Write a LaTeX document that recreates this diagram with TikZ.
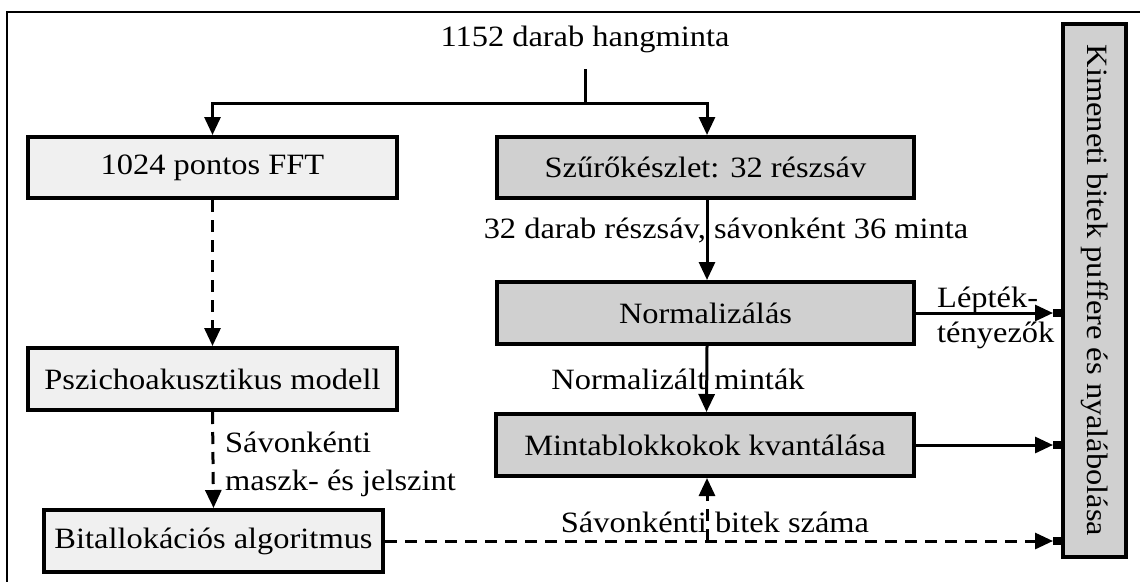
\documentclass[tikz,border=0pt]{standalone}
\usepackage{fontspec}
\setmainfont{Liberation Serif}[FakeStretch=1.1]
\usetikzlibrary{arrows.meta}
\definecolor{lightbox}{HTML}{F0F0F0}
\definecolor{darkbox}{HTML}{D0D0D0}
\begin{document}
\begin{tikzpicture}[x=1pt,y=-1pt,
  font=\fontsize{29.5pt}{34pt}\selectfont,
  box/.style={draw, line width=4pt, inner sep=0pt, align=center},
  lbox/.style={box, fill=lightbox},
  dbox/.style={box, fill=darkbox},
  conn/.style={line width=3pt, line join=miter},
  arr/.style={conn, -{Triangle[length=18pt,width=16pt]}},
  dsh/.style={dash pattern=on 12pt off 8pt},
  lbl/.style={inner sep=0pt, anchor=base},
  lbll/.style={inner sep=0pt, anchor=base west},
  sq/.style={fill=black}
]
\useasboundingbox (0,0) rectangle (1140,581);
\begin{scope}
  \clip (0,0) rectangle (1140,581);
  \draw[line width=1.5pt] (7,12) rectangle (1170,610);
\end{scope}

% boxes
\node[lbox, minimum width=369, minimum height=61] (fft) at (212.5,167.5) {1024 pontos FFT};
\node[dbox, minimum width=417, minimum height=61] (szuro) at (705.5,167.5) {Szűrőkészlet: 32 részsáv};
\node[dbox, minimum width=417, minimum height=62] (norm) at (705.5,313) {Normalizálás};
\node[dbox, minimum width=418, minimum height=62] (minta) at (705,445) {Mintablokkokok kvantálása};
\node[lbox, minimum width=369, minimum height=62] (pszi) at (212.5,379) {Pszichoakusztikus modell};
\node[lbox, minimum width=339, minimum height=62] (bit) at (213.5,541) {Bitallokációs algoritmus};
\node[dbox, minimum width=63, minimum height=533] (out) at (1094.5,290.5) {};
\node[rotate=-90, inner sep=0pt] (outtxt) at (out.center) {Kimeneti bitek puffere és nyalábolása};

% title and split
\node[lbl] (title) at (585,46) {1152 darab hangminta};
\coordinate (top) at (585,69);
\coordinate (split) at (585,103);
\draw[conn] (top) -- (split);
\draw[arr] (split) -| (fft.north);
\draw[arr] (split) -| ([xshift=1.5pt]szuro.north);

% right column
\draw[arr] ([xshift=1.5pt]szuro.south) -- ([xshift=1.5pt]norm.north);
\node[lbl] (l1) at (726,238) {32 darab részsáv, sávonként 36 minta};
\draw[arr] ([xshift=1.5pt]norm.south) -- ([xshift=1.5pt]minta.north);
\node[lbl] (l2) at (678,389) {Normalizált minták};

% inputs to output box
\coordinate (in1) at (out.west |- norm.east);
\coordinate (in2) at (out.west |- minta.east);
\coordinate (in3) at (out.west |- bit.east);
\draw[arr] (norm.east) -- ([xshift=-8pt]in1);
\draw[arr] (minta.east) -- ([xshift=-8pt]in2);
\draw[arr, dsh] (bit.east) -- ([xshift=-8pt]in3);
\fill[sq] ([xshift=-8pt,yshift=4pt]in1) rectangle ++(8,8);
\fill[sq] ([xshift=-8pt,yshift=4pt]in2) rectangle ++(8,8);
\fill[sq] ([xshift=-8pt,yshift=4pt]in3) rectangle ++(8,8);
\node[lbll] (l3) at (937,307) {Lépték-};
\node[lbll] (l4) at (937,342) {tényezők};

% left column
\draw[arr, dsh] (fft.south) -- (pszi.north);
\draw[arr, dsh] (pszi.south) -- (bit.north);
\node[lbll] (l5) at (225,452) {Sávonkénti};
\node[lbll] (l6) at (225,490) {maszk- és jelszint};

% branch up to quantizer
\coordinate (br) at ([xshift=2pt]minta.south |- bit.east);
\draw[arr, dsh] (br) -- ([xshift=2pt]minta.south);
\node[lbl] (l7) at (715,532) {Sávonkénti bitek száma};
\end{tikzpicture}
\end{document}
